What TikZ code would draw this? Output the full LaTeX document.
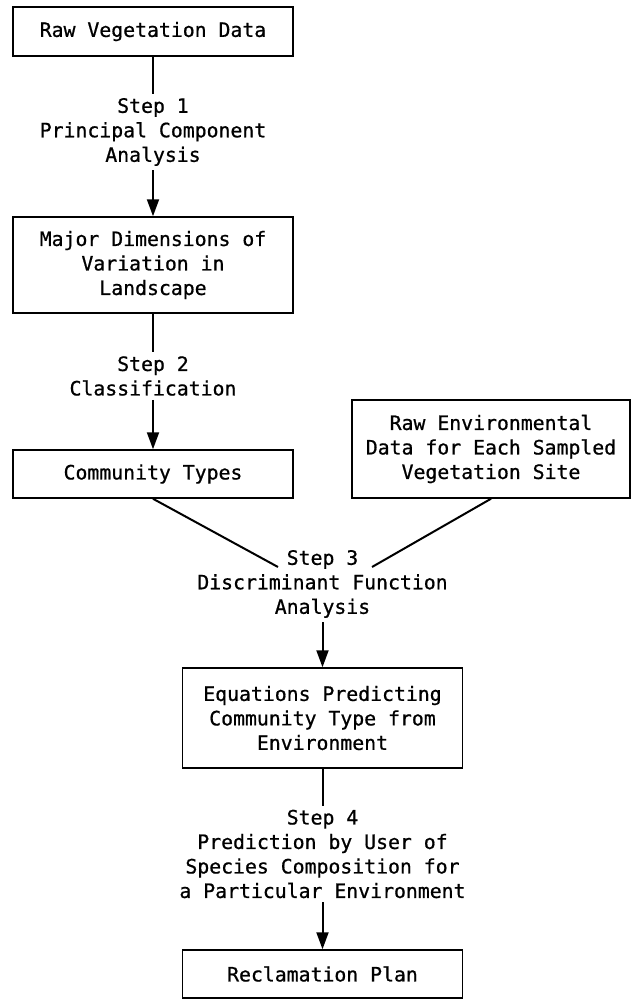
\documentclass[tikz,border=0pt]{standalone}
\usepackage{fontspec}
\newfontfamily\flowfont[FakeBold=0.8]{DejaVu Sans Mono}
\usetikzlibrary{arrows.meta}
\begin{document}
\begin{tikzpicture}[x=1pt,y=-1pt,
  every node/.style={font=\flowfont\fontsize{19.8}{24.5}\selectfont, align=center},
  stage/.style={draw, line width=1.5pt, minimum width=280pt, inner sep=0pt},
  steplabel/.style={inner sep=4pt},
  link/.style={line width=2pt},
  flow/.style={link, -{Triangle[length=17pt,width=12pt]}}]
\useasboundingbox (0,0) rectangle (632,1001);

% process boxes
\node[stage, minimum height=49pt] (rawveg) at (153,31.5) {Raw Vegetation Data};
\node[stage, minimum height=96pt] (major) at (153,265) {Major Dimensions of\\Variation in\\Landscape};
\node[stage, minimum height=48pt] (types) at (153,474) {Community Types};
\node[stage, minimum width=278pt, minimum height=98pt] (envdata) at (491,449)
  {Raw Environmental\\Data for Each Sampled\\Vegetation Site};
\node[stage, minimum height=100pt] (equations) at (322.5,718)
  {Equations Predicting\\Community Type from\\Environment};
\node[stage, minimum height=48pt] (plan) at (322.5,974) {Reclamation Plan};

% step labels
\node[steplabel] (s1) at (153,132) {Step 1\\Principal Component\\Analysis};
\node[steplabel] (s2) at (153,376) {Step 2\\Classification};
\node[steplabel] (s3) at (322.5,584) {Step 3\\Discriminant Function\\Analysis};
\node[steplabel] (s4) at (322.5,854) {Step 4\\Prediction by User of\\Species Composition for\\a Particular Environment};

% ends of the two converging lines
\coordinate (s3l) at (278,567);
\coordinate (s3r) at (372,567);

% connectors
\draw[link] (rawveg.south) -- (s1.north);
\draw[flow] (s1.south) -- (major.north);
\draw[link] (major.south) -- (s2.north);
\draw[flow] (s2.south) -- (types.north);
\draw[link] (types.south) -- (s3l);
\draw[link] (envdata.south) -- (s3r);
\draw[flow] (s3.south) -- (equations.north);
\draw[link] (equations.south) -- (s4.north);
\draw[flow] (s4.south) -- (plan.north);
\end{tikzpicture}
\end{document}
